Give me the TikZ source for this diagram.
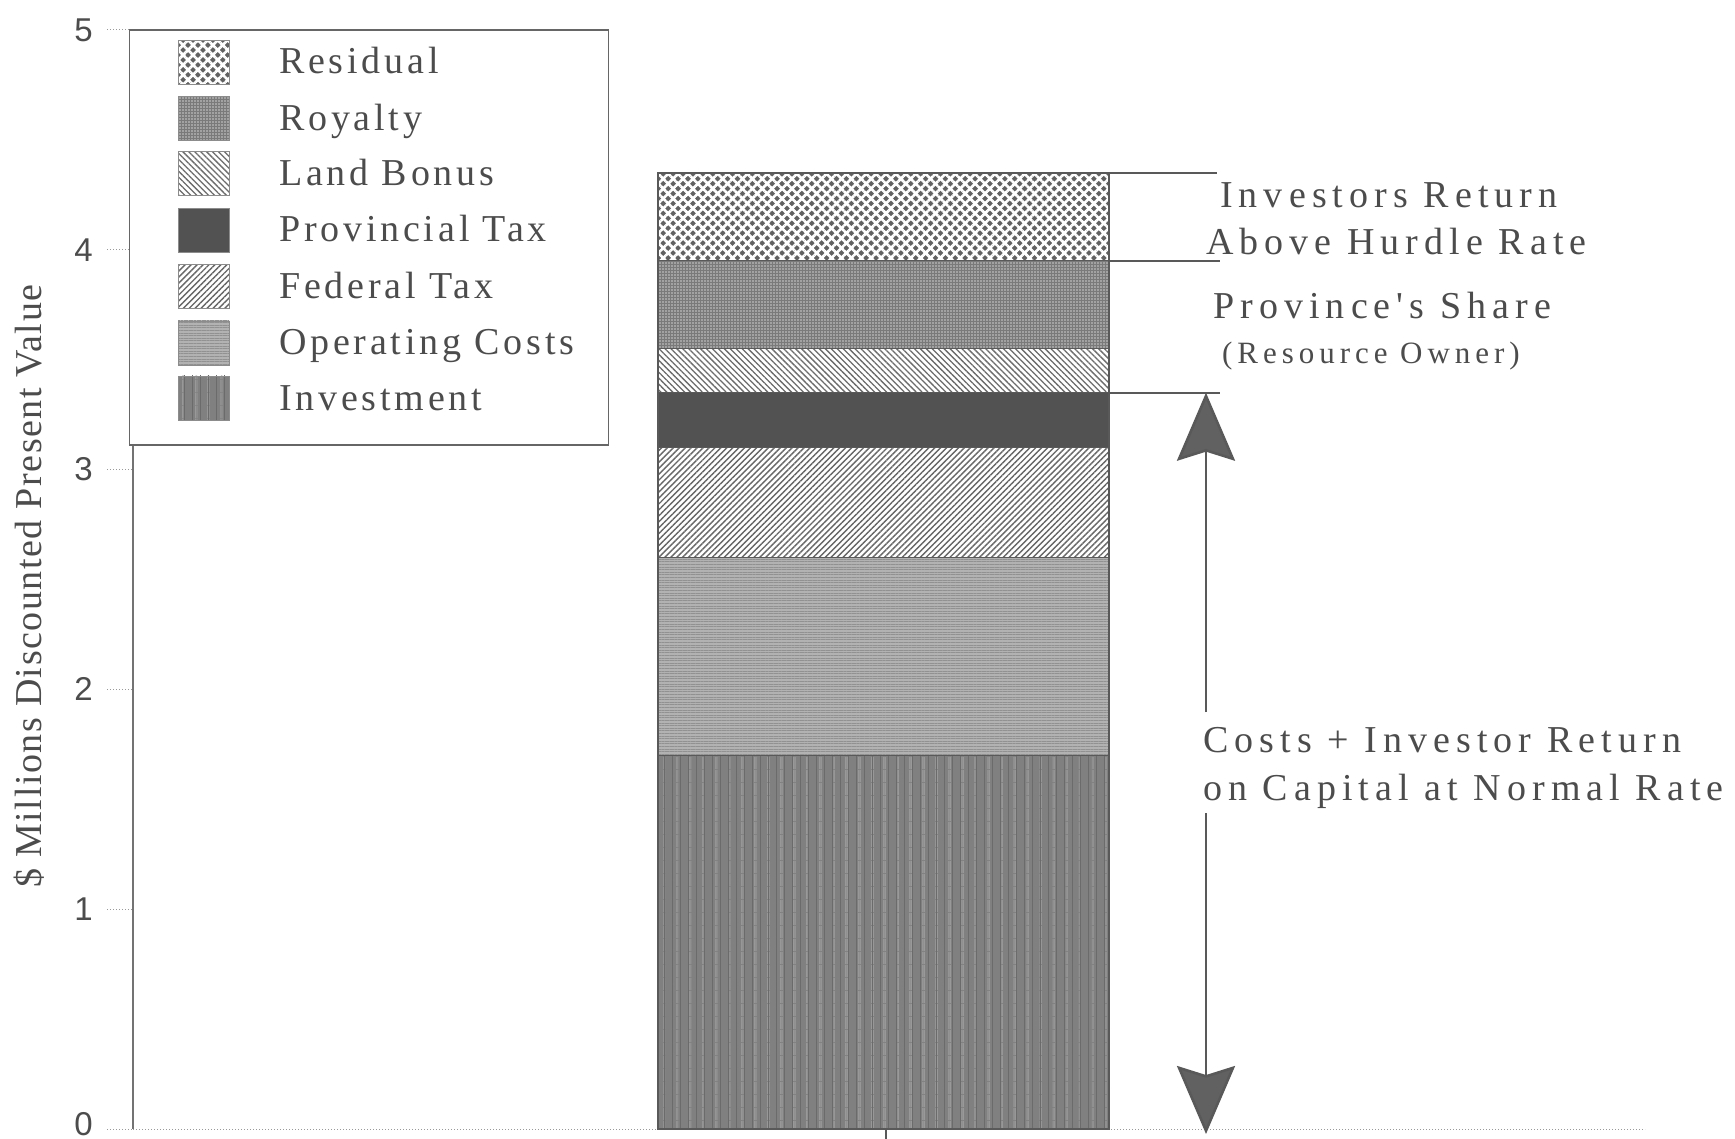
\documentclass[tikz,border=0pt]{standalone}
\usepackage{fontspec}
\setmainfont{Liberation Serif}
\newfontfamily\annfont[LetterSpace=16]{Liberation Serif}
\newfontfamily\legfont[LetterSpace=10]{Liberation Serif}
\newfontfamily\ylabfont[LetterSpace=4]{Liberation Serif}
\newfontfamily\tickfont{Liberation Sans}
\usetikzlibrary{patterns.meta,arrows.meta}
\definecolor{txt}{gray}{0.30}
\definecolor{ln}{gray}{0.35}
\tikzset{
  residualfill/.style={fill=black!62,
    postaction={pattern={Lines[angle=45,distance=7pt,line width=2.7pt]},pattern color=white},
    postaction={pattern={Lines[angle=-45,distance=7pt,line width=2.7pt]},pattern color=white}},
  royaltyfill/.style={fill=black!52,
    postaction={pattern={Dots[distance=3pt,radius=0.85pt]},pattern color=white!80!black}},
  landfill/.style={fill=white,
    postaction={pattern={Lines[angle=-45,distance=4.2pt,line width=1.3pt]},pattern color=black!58}},
  provfill/.style={fill=black!68},
  fedfill/.style={fill=white,
    postaction={pattern={Lines[angle=45,distance=4.2pt,line width=1.4pt]},pattern color=black!60}},
  opfill/.style={fill=black!30,
    postaction={pattern={Lines[angle=0,distance=2.6pt,line width=0.7pt]},pattern color=black!43}},
  invfill/.style={fill=black!50,
    postaction={pattern={Lines[angle=90,distance=13pt,line width=1.2pt]},pattern color=black!40},
    postaction={pattern={Lines[angle=90,distance=8pt,line width=0.7pt]},pattern color=black!58}},
  seg/.style={draw=ln,line width=1.3pt},
  legtext/.style={anchor=base west,text=txt,font=\legfont\fontsize{38}{42}\selectfont,inner sep=0pt},
  anntext/.style={anchor=base west,text=txt,font=\annfont\fontsize{38}{42}\selectfont,inner sep=0pt},
  smalltext/.style={anchor=base west,text=txt,font=\annfont\fontsize{31}{34}\selectfont,inner sep=0pt},
  ticklab/.style={anchor=east,text=txt,font=\tickfont\fontsize{33}{36}\selectfont,inner sep=0pt},
  tickline/.style={draw=black!40,line width=1pt,dotted},
  bracket/.style={draw=ln,line width=2pt},
  bigarrow/.style={draw=ln,line width=2.6pt,-{Stealth[length=68pt,width=58pt,inset=9pt,fill=black!62]}}
}
\begin{document}
\begin{tikzpicture}[x=1pt,y=-1pt]
\useasboundingbox[fill=white] (0,0) rectangle (1735,1139);
% axes
\draw[draw=black!55,line width=1.2pt] (133,30) -- (133,1129);
\draw[tickline] (133,1129) -- (1645,1129);
\draw[draw=ln,line width=1.2pt] (886,1129) -- (886,1139);
\foreach \v in {0,1,2,3,4,5}{
  \draw[tickline] (107,{1129-219.8*\v}) -- (133,{1129-219.8*\v});
}
\foreach \v in {1,2,3,4,5}{
  \node[ticklab] (t\v) at (93,{1129-219.8*\v}) {\v};
}
\node[ticklab] (t0) at (93,1124) {0};
\node[rotate=90,text=txt,font=\ylabfont\fontsize{38}{42}\selectfont,inner sep=0pt] (ylab) at (29,586) {\$ Millions Discounted Present Value};
% bar segments
\path[invfill]      (658,1129)  rectangle (1109,755.3);
\path[opfill]       (658,755.3) rectangle (1109,557.5);
\path[fedfill]      (658,557.5) rectangle (1109,447.6);
\path[provfill]     (658,447.6) rectangle (1109,392.7);
\path[landfill]     (658,392.7) rectangle (1109,348.7);
\path[royaltyfill]  (658,348.7) rectangle (1109,260.8);
\path[residualfill] (658,260.8) rectangle (1109,172.9);
\foreach \yy in {755.3,557.5,447.6,392.7,348.7,260.8}{
  \draw[draw=ln,line width=1.1pt] (658,\yy) -- (1109,\yy);
}
\draw[seg] (658,1129) rectangle (1109,172.9);
% legend
\draw[fill=white,draw=black!60,line width=1.1pt] (129.5,30) rectangle (608.6,445);
\path[residualfill] (178,40)    rectangle (229,84);
\path[royaltyfill]  (178,96.4)  rectangle (229,140.4);
\path[landfill]     (178,151.7) rectangle (229,195.7);
\path[provfill]     (178,208)   rectangle (229,252);
\path[fedfill]      (178,264.6) rectangle (229,308.6);
\path[opfill]       (178,321)   rectangle (229,365);
\path[invfill]      (178,376)   rectangle (229,420);
\foreach \t in {40,96.4,151.7,208,264.6,321,376}{
  \draw[draw=black!45,line width=0.8pt] (178,\t) rectangle (229,\t+44);
}
\node[legtext] (l1) at (279,74)    {Residual};
\node[legtext] (l2) at (279,130.4) {Royalty};
\node[legtext] (l3) at (279,185.7) {Land Bonus};
\node[legtext] (l4) at (279,242)   {Provincial Tax};
\node[legtext] (l5) at (279,298.6) {Federal Tax};
\node[legtext] (l6) at (279,355)   {Operating Costs};
\node[legtext] (l7) at (279,410)   {Investment};
% right brackets
\coordinate (b1a) at (1109,172.9); \coordinate (b1b) at (1217,172.9);
\coordinate (b2a) at (1109,260.8); \coordinate (b2b) at (1220,260.8);
\coordinate (b3a) at (1109,392.7); \coordinate (b3b) at (1220,392.7);
\draw[bracket] (b1a) -- (b1b);
\draw[bracket] (b2a) -- (b2b);
\draw[bracket] (b3a) -- (b3b);
\node[anntext] (a1) at (1220,208) {Investors Return};
\node[anntext] (a2) at (1206,255) {Above Hurdle Rate};
\node[anntext] (a3) at (1213,319) {Province's Share};
\node[smalltext] (a4) at (1222,364) {(Resource Owner)};
\node[anntext] (a5) at (1203,752) {Costs + Investor Return};
\node[anntext] (a6) at (1203,800) {on Capital at Normal Rate};
% arrow
\coordinate (atop) at (1206,392.7);
\coordinate (abot) at (1206,1134);
\coordinate (m1) at (1206,712);
\coordinate (m2) at (1206,813);
\draw[bigarrow] (m1) -- (atop);
\draw[bigarrow] (m2) -- (abot);
\end{tikzpicture}
\end{document}
